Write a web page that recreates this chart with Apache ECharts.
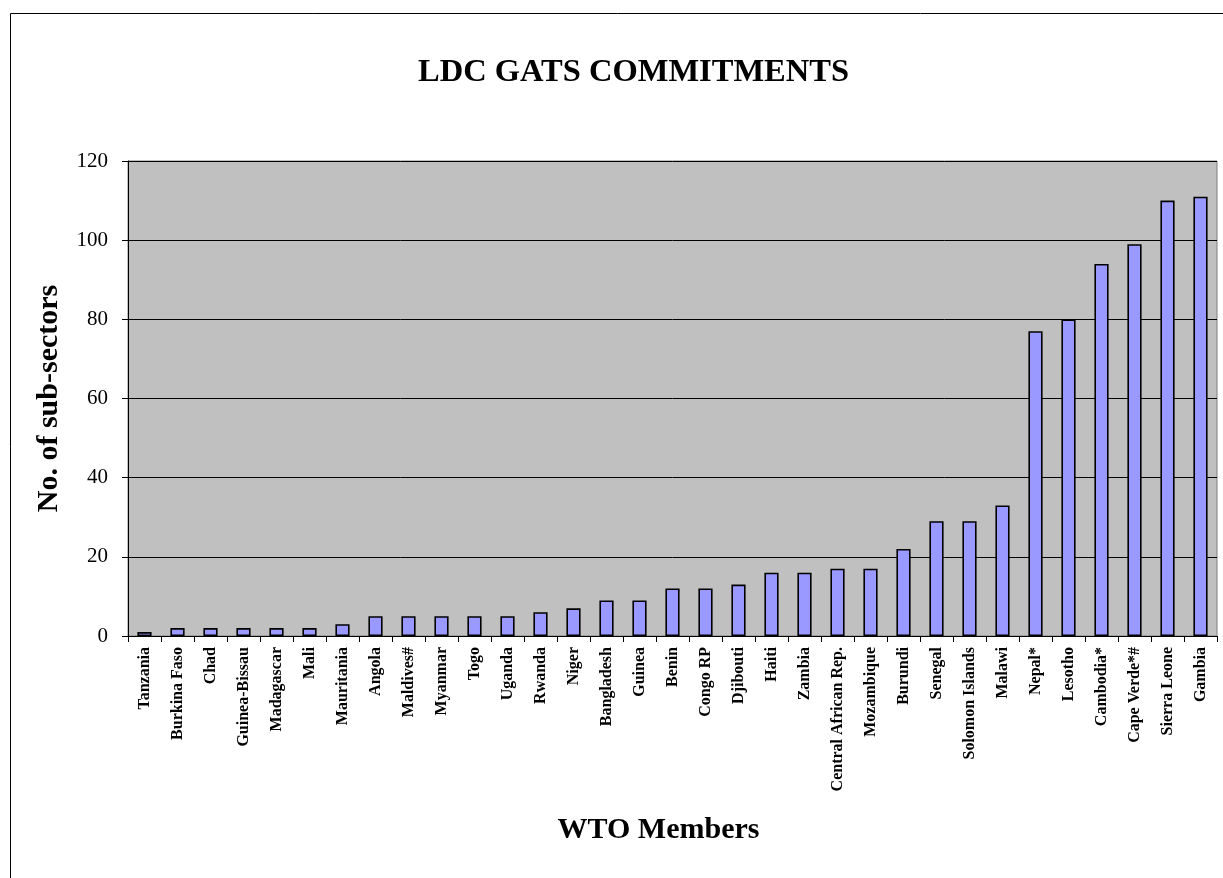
<!DOCTYPE html>
<html>
<head>
<meta charset="utf-8">
<script src="https://cdn.jsdelivr.net/npm/echarts@6/dist/echarts.min.js"></script>
<style>html,body{margin:0;padding:0;background:#fff;}#c{width:1223px;height:878px;}</style>
</head>
<body>
<div id="c"></div>
<script>
const categories = ["Tanzania","Burkina Faso","Chad","Guinea-Bissau","Madagascar","Mali","Mauritania","Angola","Maldives#","Myanmar","Togo","Uganda","Rwanda","Niger","Bangladesh","Guinea","Benin","Congo RP","Djibouti","Haiti","Zambia","Central African Rep.","Mozambique","Burundi","Senegal","Solomon Islands","Malawi","Nepal*","Lesotho","Cambodia*","Cape Verde*#","Sierra Leone","Gambia"];
const values = [1,2,2,2,2,2,3,5,5,5,5,5,6,7,9,9,12,12,13,16,16,17,17,22,29,29,33,77,80,94,99,110,111];
const yTicks = {min:0, max:120, interval:20};
const serif = "'Liberation Serif','Times New Roman',serif";
const chart = echarts.init(document.getElementById('c'));
chart.setOption({
  animation:false,
  backgroundColor:'#fff',
  graphic:[{type:'rect',shape:{x:10.5,y:13.5,width:1240,height:900},style:{fill:'none',stroke:'#000',lineWidth:1}}],
  title:{text:'LDC GATS COMMITMENTS',left:413,top:51,textStyle:{fontFamily:serif,fontWeight:'bold',fontSize:32.5,color:'#000'}},
  grid:{left:128,top:161,right:6,bottom:242,show:true,backgroundColor:'#c0c0c0',borderColor:'#808080',borderWidth:1},
  xAxis:{type:'category',data:categories,
    name:'WTO Members',nameLocation:'middle',nameGap:179,
    nameTextStyle:{fontFamily:serif,fontWeight:'bold',fontSize:30,color:'#000',padding:[0,28,0,0]},
    axisLine:{lineStyle:{color:'#000',width:1}},
    axisTick:{show:true,alignWithLabel:false,length:6,lineStyle:{color:'#000'}},
    axisLabel:{rotate:90,interval:0,fontFamily:serif,fontWeight:'bold',fontSize:16,color:'#000',margin:11}},
  yAxis:{type:'value',min:yTicks.min,max:yTicks.max,interval:yTicks.interval,
    name:'No. of sub-sectors',nameLocation:'middle',nameGap:64,
    nameTextStyle:{fontFamily:serif,fontWeight:'bold',fontSize:30,color:'#000'},
    axisLine:{show:true,lineStyle:{color:'#000',width:1}},
    axisTick:{show:true,length:6,lineStyle:{color:'#000'}},
    splitLine:{lineStyle:{color:'#000',width:1}},
    axisLabel:{fontFamily:serif,fontSize:21,color:'#000',margin:20}},
  series:[{type:'bar',data:values,barWidth:'43%',
    itemStyle:{color:'#9999ff',borderColor:'#000',borderWidth:1.6}}]
});
</script>
</body>
</html>
